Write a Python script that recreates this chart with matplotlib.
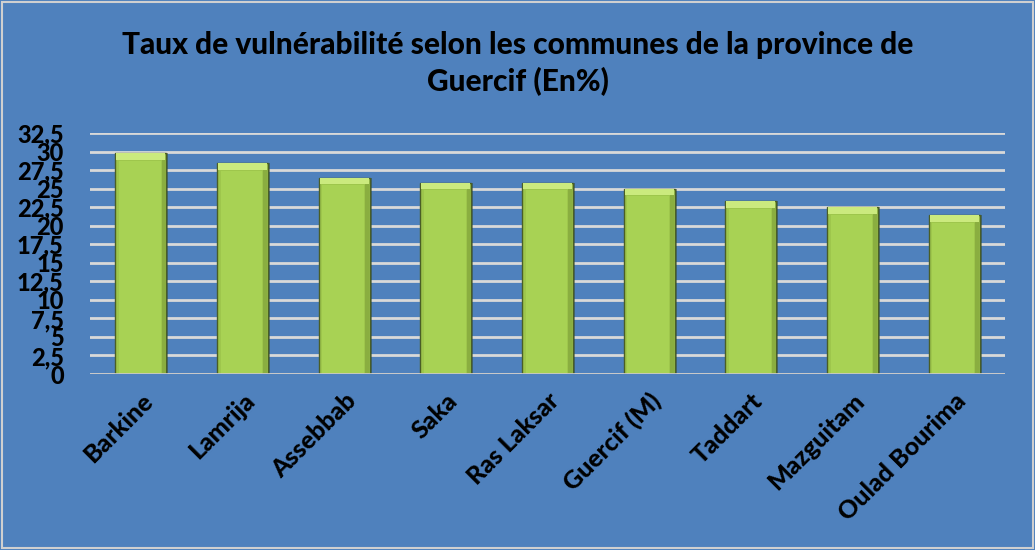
import matplotlib
matplotlib.use("Agg")
import matplotlib.pyplot as plt
import numpy as np

communes = ["Barkine", "Lamrija", "Assebbab", "Saka", "Ras Laksar",
            "Guercif (M)", "Taddart", "Mazguitam", "Oulad Bourima"]
taux = [29.8, 28.4, 26.5, 25.8, 25.8, 25.0, 23.3, 22.5, 21.4]
yticks = [0, 2.5, 5, 7.5, 10, 12.5, 15, 17.5, 20, 22.5, 25, 27.5, 30, 32.5]
ytick_labels = ["0", "2,5", "5", "7,5", "10", "12,5", "15", "17,5", "20",
                "22,5", "25", "27,5", "30", "32,5"]
title = "Taux de vulnérabilité selon les communes de la province de\nGuercif (En%)"

BG = "#4F81BD"
plt.rcParams['font.family'] = ['Lato', 'DejaVu Sans']

fig = plt.figure(figsize=(10.35, 5.5), dpi=100, facecolor=BG)
fig.patches.append(plt.Rectangle((0.002, 0.004), 0.996, 0.992, transform=fig.transFigure,
                                 fill=False, edgecolor="#D0D0D0", lw=1.5))
ax = fig.add_axes([0.087, 0.32, 0.884, 0.438])
ax.set_facecolor(BG)

x = np.arange(len(communes))
w = 0.5
vals = np.array(taux)
# soft shadow
ax.bar(x + 0.02, vals, width=w, color="#2A3F1C", alpha=0.45, zorder=2)
# main bar
ax.bar(x, vals, width=w, color="#9EC64C", edgecolor="#4A5E26", lw=1.0, zorder=3)
# inner lighter body
ax.bar(x - 0.01, vals - 1.0, width=w * 0.82, color="#A8D254", lw=0, zorder=4)
# top bevel highlight
ax.bar(x, [0.9] * len(taux), bottom=vals - 0.9, width=w * 0.96,
       color="#CBEA7E", lw=0, zorder=5)
# right edge shading
ax.bar(x + w * 0.45, vals - 0.9, width=w * 0.08, color="#8AAE40", lw=0, zorder=5)

ax.set_ylim(0, 32.5)
ax.set_xlim(-0.5, len(communes) - 0.5)
ax.set_yticks(yticks)
ax.set_yticklabels(ytick_labels)
ax.yaxis.grid(True, color="#D9D9D9", lw=2, zorder=1)
ax.set_axisbelow(True)
for s in ax.spines.values():
    s.set_visible(False)
ax.axhline(0, color="#C8C8C8", lw=2, zorder=6)

ax.tick_params(axis="y", length=0, pad=19, labelsize=17)
ax.tick_params(axis="x", length=0, pad=11, labelsize=18)
for lab in ax.get_yticklabels():
    lab.set_fontweight("black")
    lab.set_color("black")
ax.set_xticks(x)
ax.set_xticklabels(communes, rotation=45, ha="right", va="top",
                   rotation_mode="anchor", fontweight="black")

fig.text(0.5, 0.885, title, ha="center", va="center", fontsize=21.5,
         fontweight="black", linespacing=1.35, color="black")

fig.savefig("out.png", dpi=100, facecolor=BG)
